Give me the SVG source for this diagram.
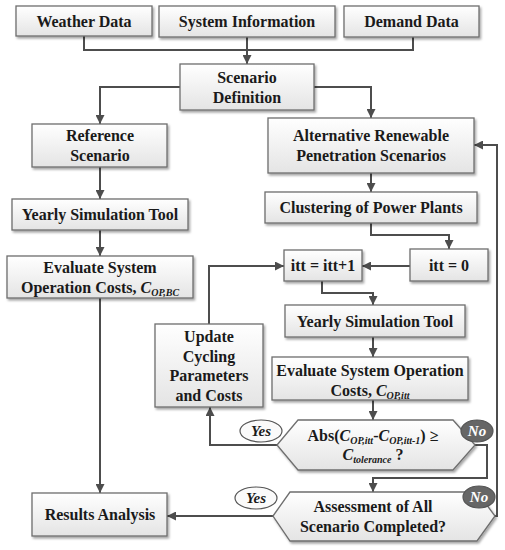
<svg xmlns="http://www.w3.org/2000/svg" width="505" height="550" viewBox="0 0 505 550" font-family="'Liberation Serif', 'DejaVu Serif', serif">
<defs>
<linearGradient id="g" x1="0" y1="0" x2="0" y2="1">
<stop offset="0" stop-color="#ffffff"/>
<stop offset="1" stop-color="#e4e4e4"/>
</linearGradient>
<filter id="sh" x="-10%" y="-10%" width="130%" height="140%">
<feDropShadow dx="1.5" dy="2" stdDeviation="1.2" flood-color="#000" flood-opacity="0.35"/>
</filter>
<marker id="ah" viewBox="0 0 10 10" refX="10" refY="5" markerWidth="9" markerHeight="9" markerUnits="userSpaceOnUse" orient="auto">
<path d="M0,0 L10,5 L0,10 Z" fill="#4d4d4d"/>
</marker>
<style>
.b{fill:url(#g);stroke:#6e6e6e;stroke-width:1.3;filter:url(#sh)}
.t{font-family:'Liberation Serif',serif;font-weight:bold;font-size:16px;fill:#1a1a1a;text-anchor:middle}
.i{font-style:italic}
.s{font-size:10px;font-style:italic}
.c{fill:none;stroke:#4d4d4d;stroke-width:2}
.a{marker-end:url(#ah)}
.y{fill:#fafafa;stroke:#555;stroke-width:1.2}
.n{fill:#666;stroke:#555;stroke-width:1.2}
.yt{font-family:'Liberation Serif',serif;font-weight:bold;font-style:italic;font-size:15px;fill:#1a1a1a;text-anchor:middle}
.nt{font-family:'Liberation Serif',serif;font-weight:bold;font-style:italic;font-size:15px;fill:#ffffff;text-anchor:middle}
</style>
</defs>

<g id="connectors">
<path class="c" d="M84,36 V50 H413 V37"/>
<path class="c a" d="M247,37 V64"/>
<path class="c a" d="M180,87 H100 V124"/>
<path class="c a" d="M314,87 H371 V118"/>
<path class="c a" d="M100,167 V199"/>
<path class="c a" d="M100,230 V256"/>
<path class="c a" d="M100,298 V493"/>
<path class="c a" d="M371,173 V192"/>
<path class="c a" d="M371,223 V235 H449 V249"/>
<path class="c a" d="M410,266 H362"/>
<path class="c a" d="M322,281 V293 H373 V305"/>
<path class="c a" d="M373,337 V357"/>
<path class="c a" d="M373,400 V420"/>
<path class="c a" d="M277,445 H210 V407"/>
<path class="c a" d="M209,324 V266 H284"/>
<path class="c a" d="M475,445 H487 V478 H373 V492"/>
<path class="c a" d="M495,516 H497 V145 H474"/>
<path class="c a" d="M273,516 H167"/>
</g>

<g id="weather"><rect class="b" x="16" y="6" width="136" height="30"/><text class="t" x="84" y="27">Weather Data</text></g>
<g id="system"><rect class="b" x="159" y="6" width="176" height="31"/><text class="t" x="247" y="27">System Information</text></g>
<g id="demand"><rect class="b" x="344" y="6" width="135" height="31"/><text class="t" x="411.5" y="27">Demand Data</text></g>
<g id="scenario"><rect class="b" x="180" y="64" width="134" height="46"/><text class="t" x="247" y="83">Scenario</text><text class="t" x="247" y="103">Definition</text></g>
<g id="reference"><rect class="b" x="32" y="124" width="135" height="43"/><text class="t" x="100" y="141">Reference</text><text class="t" x="100" y="161">Scenario</text></g>
<g id="alternative"><rect class="b" x="268" y="118" width="206" height="55"/><text class="t" x="371" y="141">Alternative Renewable</text><text class="t" x="371" y="161">Penetration Scenarios</text></g>
<g id="yearly-ref"><rect class="b" x="12" y="199" width="176" height="31"/><text class="t" x="100" y="220">Yearly Simulation Tool</text></g>
<g id="eval-ref"><rect class="b" x="7" y="256" width="186" height="42"/><text class="t" x="100" y="273">Evaluate System</text><text class="t" x="100" y="293">Operation Costs, <tspan class="i">C</tspan><tspan class="s" dy="3">OP,BC</tspan></text></g>
<g id="clustering"><rect class="b" x="265" y="192" width="212" height="31"/><text class="t" x="371" y="213">Clustering of Power Plants</text></g>
<g id="itt0"><rect class="b" x="410" y="249" width="78" height="32"/><text class="t" x="449" y="271">itt = 0</text></g>
<g id="itt1"><rect class="b" x="284" y="250" width="78" height="31"/><text class="t" x="323" y="271">itt = itt+1</text></g>
<g id="yearly-alt"><rect class="b" x="285" y="305" width="180" height="32"/><text class="t" x="375" y="327">Yearly Simulation Tool</text></g>
<g id="eval-alt"><rect class="b" x="272" y="357" width="196" height="43"/><text class="t" x="370" y="376">Evaluate System Operation</text><text class="t" x="370" y="396">Costs, <tspan class="i">C</tspan><tspan class="s" dy="3">OP,itt</tspan></text></g>
<g id="update"><rect class="b" x="155" y="324" width="108" height="83"/><text class="t" x="209" y="342">Update</text><text class="t" x="209" y="362">Cycling</text><text class="t" x="209" y="381">Parameters</text><text class="t" x="209" y="401">and Costs</text></g>
<g id="decision1"><polygon class="b" points="277,445 298,420 453,420 475,445 453,470 298,470"/><text class="t" x="373" y="441">Abs(<tspan class="i">C</tspan><tspan class="s" dy="3">OP,itt</tspan><tspan dy="-3">-</tspan><tspan class="i">C</tspan><tspan class="s" dy="3">OP,itt-1</tspan><tspan dy="-3">) ≥</tspan></text><text class="t" x="373" y="460"><tspan class="i">C</tspan><tspan class="s" dy="3">tolerance</tspan><tspan dy="-3"> ?</tspan></text></g>
<g id="decision2"><polygon class="b" points="273,516 290,492 477,492 495,516 477,541 290,541"/><text class="t" x="373" y="512">Assessment of All</text><text class="t" x="373" y="532">Scenario Completed?</text></g>
<g id="results"><rect class="b" x="32" y="493" width="135" height="43"/><text class="t" x="100" y="520">Results Analysis</text></g>
<g id="yes1"><ellipse class="y" cx="261" cy="431" rx="21" ry="11"/><text class="yt" x="261" y="436">Yes</text></g>
<g id="no1"><ellipse class="n" cx="477" cy="431" rx="16" ry="11"/><text class="nt" x="477" y="436">No</text></g>
<g id="yes2"><ellipse class="y" cx="256" cy="498" rx="21" ry="11"/><text class="yt" x="256" y="503">Yes</text></g>
<g id="no2"><ellipse class="n" cx="479" cy="497" rx="16" ry="11"/><text class="nt" x="479" y="502">No</text></g>
</svg>
